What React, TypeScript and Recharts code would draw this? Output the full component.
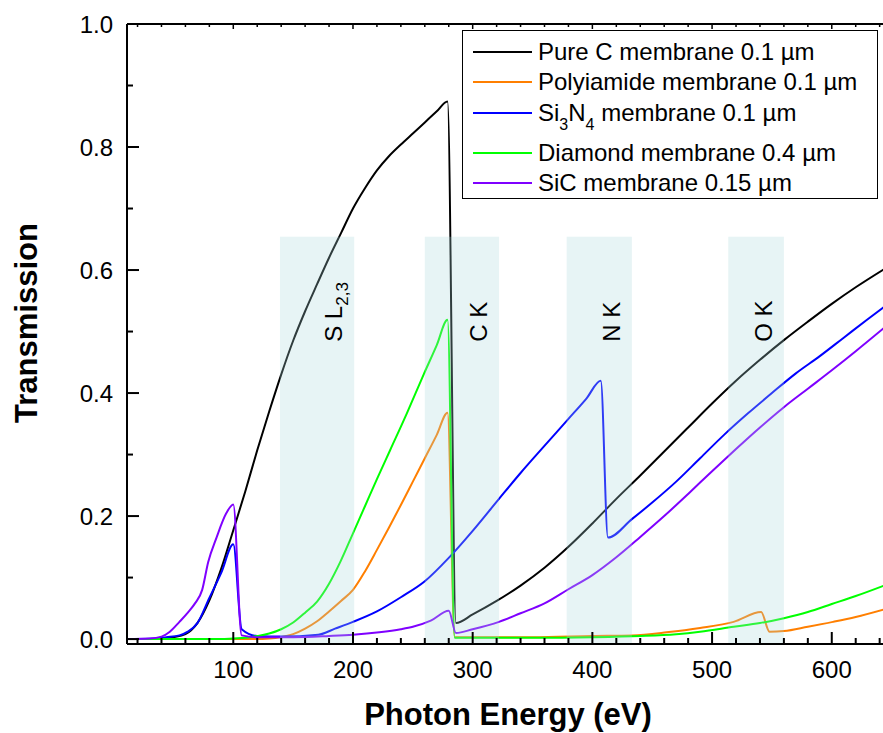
import React from "react";
import { LineChart, Line, XAxis, YAxis, ReferenceArea, Legend } from "recharts";

// photon energy (eV), transmission
const pureC = [
  [10, 0], [30, 0], [40, 0.001], [50, 0.003], [60, 0.008], [70, 0.026], [80, 0.063], [90, 0.115],
  [100, 0.177], [110, 0.24], [120, 0.307], [130, 0.37], [140, 0.43], [150, 0.485], [160, 0.533],
  [170, 0.577], [180, 0.62], [190, 0.66], [200, 0.7], [210, 0.733], [220, 0.762], [230, 0.785],
  [240, 0.804], [250, 0.822], [260, 0.84], [270, 0.858], [279, 0.874], [286, 0.026], [300, 0.04],
  [320, 0.062], [340, 0.087], [360, 0.116], [380, 0.15], [400, 0.188], [420, 0.228], [440, 0.266],
  [460, 0.305], [480, 0.344], [500, 0.383], [520, 0.42], [540, 0.454], [560, 0.486], [580, 0.516],
  [600, 0.545], [620, 0.572], [645, 0.603],
];

const polyimide = [
  [10, 0], [120, 0], [130, 0.001], [139, 0.003], [150, 0.008], [160, 0.017], [170, 0.029],
  [180, 0.045], [190, 0.062], [200, 0.08], [210, 0.11], [220, 0.145], [230, 0.181], [240, 0.218],
  [250, 0.256], [260, 0.294], [270, 0.332], [279, 0.368], [285, 0.003], [350, 0.003], [400, 0.005],
  [433, 0.006], [462, 0.011], [490, 0.018], [518, 0.028], [541, 0.044], [548, 0.012], [560, 0.013],
  [580, 0.02], [601, 0.028], [620, 0.036], [645, 0.049],
];

const si3n4 = [
  [10, 0], [35, 0.001], [44, 0.003], [55, 0.006], [62, 0.012], [70, 0.026], [80, 0.067], [90, 0.108],
  [100, 0.154], [107, 0.016], [120, 0.005], [140, 0.004], [171, 0.007], [185, 0.017], [200, 0.028],
  [220, 0.045], [240, 0.068], [260, 0.094], [280, 0.132], [300, 0.176], [322, 0.228], [340, 0.27],
  [359, 0.312], [380, 0.358], [395, 0.391], [407, 0.42], [413, 0.165], [433, 0.195], [450, 0.222],
  [470, 0.256], [490, 0.294], [510, 0.332], [530, 0.367], [550, 0.4], [570, 0.432], [590, 0.46],
  [610, 0.49], [630, 0.52], [645, 0.542],
];

const diamond = [
  [10, 0], [90, 0], [100, 0.001], [110, 0.002], [120, 0.005], [130, 0.009], [140, 0.016], [150, 0.027],
  [160, 0.043], [170, 0.061], [180, 0.09], [190, 0.128], [200, 0.172], [210, 0.216], [220, 0.26],
  [231, 0.307], [245, 0.367], [259, 0.43], [270, 0.478], [279, 0.519], [285, 0.002], [350, 0.002],
  [400, 0.003], [440, 0.005], [470, 0.008], [490, 0.012], [518, 0.02], [540, 0.026], [560, 0.034],
  [580, 0.044], [600, 0.057], [620, 0.07], [645, 0.088],
];

const sic = [
  [10, 0], [30, 0.001], [40, 0.004], [47, 0.012], [55, 0.028], [62, 0.043], [68, 0.058], [74, 0.08],
  [79, 0.125], [86, 0.165], [94, 0.204], [100, 0.219], [107, 0.006], [120, 0.003], [150, 0.003],
  [180, 0.005], [200, 0.007], [222, 0.011], [240, 0.016], [250, 0.02], [265, 0.03], [280, 0.046],
  [286, 0.01], [300, 0.016], [322, 0.028], [340, 0.042], [360, 0.058], [380, 0.081], [400, 0.104],
  [420, 0.133], [440, 0.166], [460, 0.2], [480, 0.236], [500, 0.273], [520, 0.309], [540, 0.344],
  [560, 0.377], [580, 0.407], [600, 0.437], [620, 0.468], [645, 0.508],
];

const seriesData = [pureC, polyimide, si3n4, diamond, sic];
const seriesNames = [
  "Pure C membrane 0.1 µm",
  "Polyiamide membrane 0.1 µm",
  "Si_3N_4 membrane 0.1 µm",
  "Diamond membrane 0.4 µm",
  "SiC membrane 0.15 µm",
];
const seriesColors = ["#000000", "#ff7f00", "#0000ff", "#00ff00", "#7f00ff"];

// absorption edges shown as shaded bands (eV)
const bandLabels = ["S L_{2,3}", "C K", "N K", "O K"];
const bandFrom = [139, 260, 378.5, 513.5];
const bandTo = [201, 322, 433, 560];
const bandTop = 0.654;

const xTicks = [20, 40, 60, 80, 100, 120, 140, 160, 180, 200, 220, 240, 260, 280, 300, 320, 340, 360, 380, 400, 420, 440, 460, 480, 500, 520, 540, 560, 580, 600, 620, 640];
const yTicks = [0, 0.1, 0.2, 0.3, 0.4, 0.5, 0.6, 0.7, 0.8, 0.9, 1.0];

const X_DOMAIN = [11.2, 642.8];
const Y_DOMAIN = [-0.008, 1];
const FONT = "'Liberation Sans', Arial, sans-serif";

function richText(label: string, subSize: number, shift: number) {
  const parts = label.split(/_\{([^}]*)\}|_(\w)/);
  const out: any[] = [];
  let lowered = false;
  for (let i = 0; i < parts.length; i += 3) {
    const text = parts[i];
    if (text) {
      out.push(<tspan key={i} dy={lowered ? -shift : 0}>{text}</tspan>);
      lowered = false;
    }
    const sub = parts[i + 1] ?? parts[i + 2];
    if (sub) {
      out.push(<tspan key={i + "s"} dy={lowered ? 0 : shift} fontSize={subSize}>{sub}</tspan>);
      lowered = true;
    }
  }
  return out;
}

const BottomTick = (props: any) => {
  const { x, y, payload } = props;
  const v = payload.value;
  const major = v % 100 === 0;
  return (
    <g>
      <line x1={x} x2={x} y1={y} y2={y - (major ? 12 : 6)} stroke="#000" strokeWidth={2} />
      {major && (
        <text x={x} y={y + 34} textAnchor="middle" fontSize={24} fontFamily={FONT} fill="#000">
          {v}
        </text>
      )}
    </g>
  );
};

const TopTick = (props: any) => {
  const { x, y, payload } = props;
  const major = payload.value % 100 === 0;
  return <line x1={x} x2={x} y1={y} y2={y + (major ? 5 : 3)} stroke="#000" strokeWidth={1.5} />;
};

const LeftTick = (props: any) => {
  const { x, y, payload } = props;
  const v = payload.value;
  const major = Math.round(v * 10) % 2 === 0;
  return (
    <g>
      <line x1={x} x2={x + (major ? 12 : 6)} y1={y} y2={y} stroke="#000" strokeWidth={2} />
      {major && (
        <text x={x - 14} y={y + 8.5} textAnchor="end" fontSize={24} fontFamily={FONT} fill="#000">
          {v.toFixed(1)}
        </text>
      )}
    </g>
  );
};

const bandLabel = (text: string) => (props: any) => {
  const vb = props.viewBox;
  const x = vb.x + vb.width - 12;
  const y = vb.y + 105;
  return (
    <text x={x} y={y} transform={`rotate(-90 ${x} ${y})`} fontSize={24} fontFamily={FONT} fill="#000">
      {richText(text, 17, 6)}
    </text>
  );
};

const LegendBox = () => {
  const rows = [22, 52, 83, 123, 153];
  return (
    <svg width={416} height={169} style={{ display: "block" }}>
      <rect x={0.5} y={0.5} width={415} height={168} fill="#fff" stroke="#000" strokeWidth={1} />
      {seriesNames.map((name, i) => (
        <g key={name}>
          <line x1={11} x2={70} y1={rows[i]} y2={rows[i]} stroke={seriesColors[i]} strokeWidth={2} />
          <text x={76} y={rows[i] + 8} fontSize={24} fontFamily={FONT} fill="#000">
            {richText(name, 16, 9)}
          </text>
        </g>
      ))}
    </svg>
  );
};

export default function App() {
  return (
    <div style={{ position: "absolute", left: 0, top: 0 }}>
      <LineChart width={883} height={733} margin={{ top: 23, right: 0, bottom: 0, left: 0 }}>
        <XAxis
          type="number"
          dataKey="e"
          domain={X_DOMAIN}
          allowDataOverflow
          ticks={xTicks}
          interval={0}
          height={89}
          tickSize={0}
          tickMargin={0}
          tickLine={false}
          axisLine={{ stroke: "#000", strokeWidth: 2 }}
          tick={<BottomTick />}
          label={() => (
            <text x={508} y={725} textAnchor="middle" fontSize={31} fontWeight="bold" fontFamily={FONT} fill="#000">
              Photon Energy (eV)
            </text>
          )}
        />
        <XAxis
          xAxisId="top"
          orientation="top"
          type="number"
          dataKey="e"
          domain={X_DOMAIN}
          allowDataOverflow
          ticks={xTicks}
          interval={0}
          height={1}
          tickSize={0}
          tickMargin={0}
          tickLine={false}
          axisLine={{ stroke: "#000", strokeWidth: 2 }}
          tick={<TopTick />}
        />
        <YAxis
          type="number"
          domain={Y_DOMAIN}
          allowDataOverflow
          ticks={yTicks}
          interval={0}
          width={127}
          tickSize={0}
          tickMargin={0}
          tickLine={false}
          axisLine={{ stroke: "#000", strokeWidth: 2 }}
          tick={<LeftTick />}
          label={() => (
            <text
              x={37}
              y={323}
              transform="rotate(-90 37 323)"
              textAnchor="middle"
              fontSize={31}
              fontWeight="bold"
              fontFamily={FONT}
              fill="#000"
            >
              Transmission
            </text>
          )}
        />
        {seriesData.map((pts, i) => (
          <Line
            key={seriesNames[i]}
            data={pts.map(([e, t]) => ({ e, t }))}
            dataKey="t"
            name={seriesNames[i]}
            type="monotone"
            stroke={seriesColors[i]}
            strokeWidth={2}
            dot={false}
            activeDot={false}
            isAnimationActive={false}
          />
        ))}
        {bandLabels.map((lab, i) => (
          <ReferenceArea
            key={lab}
            x1={bandFrom[i]}
            x2={bandTo[i]}
            y1={Y_DOMAIN[0]}
            y2={bandTop}
            fill="rgb(170,214,220)"
            fillOpacity={0.28}
            stroke="none"
            zIndex={450}
            label={bandLabel(lab)}
          />
        ))}
        <Legend
          layout="horizontal"
          verticalAlign="middle"
          align="center"
          content={<LegendBox />}
          wrapperStyle={{ left: 462, top: 30, width: 416, height: 169 }}
        />
      </LineChart>
    </div>
  );
}
